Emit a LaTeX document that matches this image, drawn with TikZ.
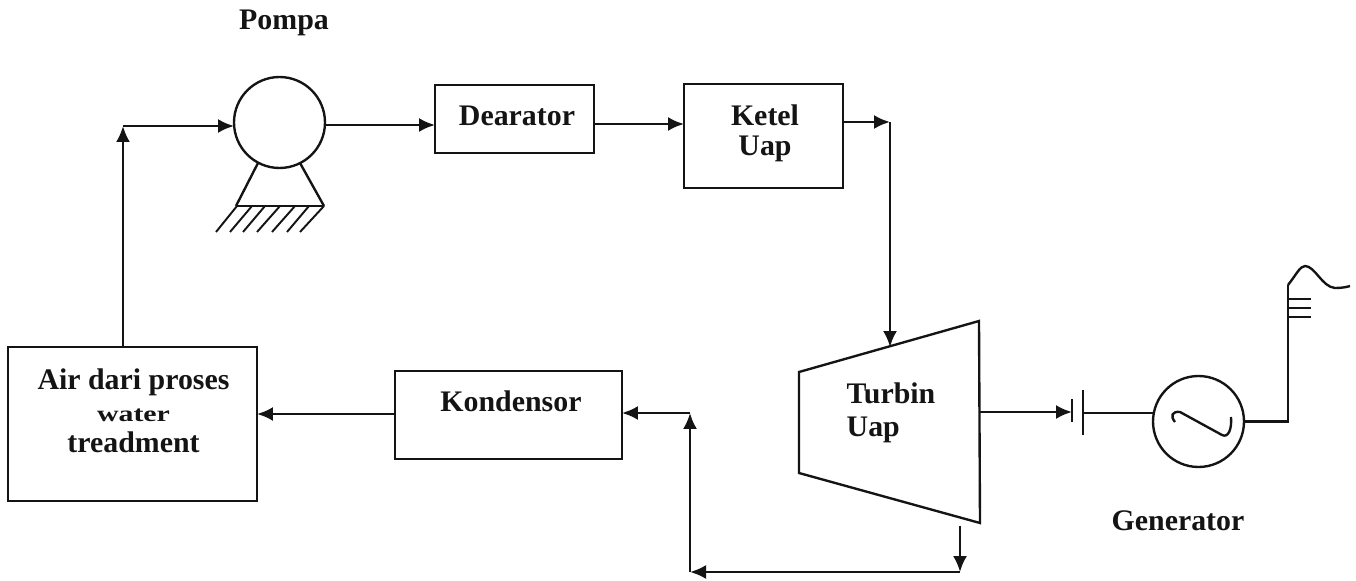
\documentclass[tikz,border=0pt]{standalone}
\usepackage{fontspec}
\usepackage{graphicx}
\setmainfont{Liberation Serif}
\usetikzlibrary{arrows.meta,calc}
\definecolor{ink}{HTML}{141414}

\begin{document}
\begin{tikzpicture}[
  x=0.02cm,y=-0.02cm,
  line width=1.35pt,draw=ink,
  font=\fontsize{17}{18}\selectfont\bfseries,
  boxnode/.style={draw,rectangle,inner sep=0pt,outer sep=0pt},
  wheel/.style={draw,circle,minimum size=1.82cm,inner sep=0pt,outer sep=0pt},
  txt/.style={text=ink,inner sep=0pt,align=center},
  flow/.style={-{Latex[length=3.2mm,width=2.8mm]}},
  thin line/.style={line width=1.1pt}]
\useasboundingbox (0,0) rectangle (1356,581);
% boxes
\node[boxnode,minimum width=3.18cm,minimum height=1.36cm] (dearator) at (514.5,119) {};
\node[boxnode,minimum width=3.18cm,minimum height=2.08cm] (ketel) at (763.5,136) {};
\node[boxnode,minimum width=4.98cm,minimum height=3.08cm] (air) at (132.5,424) {};
\node[boxnode,minimum width=4.54cm,minimum height=1.76cm] (kondensor) at (508.5,415) {};
\node[wheel] (pompa) at (279.5,122.5) {};
\node[wheel] (generator) at (1198.5,421.5) {};
% labels
\node[txt] (pompaT) at (284,23) {Pompa};
\node[txt] (dearatorT) at ($(dearator.center)+(2.5,-3)$) {Dearator};
\node[txt] (ketelT) at ($(ketel.center)+(1.5,-3)$) {Ketel\\[-1pt]Uap};
\node[txt] (kondensorT) at ($(kondensor.center)+(2.5,-14)$) {Kondensor};
\node[txt] (airT) at ($(air.center)+(1,-13)$) {Air dari proses\\\scalebox{1}[0.75]{water}\\treadment};
\node[txt,align=left] (turbinT) at (891,413) {Turbin\\[1pt]Uap};
\node[txt] (generatorT) at (1178,521) {Generator};
% pump stand
\coordinate (standL) at (236,206);
\coordinate (standR) at (324,206);
\draw (standL) -- (258,163);
\draw (standR) -- (300,163);
\draw (standL) -- (standR);
\foreach \a/\b in {237/216,252/230,265/243,280/257,295/272,309/287,324/300} \draw[thin line] (\a,206) -- (\b,232);
% turbine
\coordinate (turbA) at (799,372);
\coordinate (turbB) at (979,321);
\coordinate (turbC) at (980,523);
\coordinate (turbD) at (799,473);
\draw (turbA) -- (turbB) -- (turbC) -- (turbD) -- cycle;
% feed line
\coordinate (riser) at (123,126);
\draw[flow] (air.north -| riser) -- (riser);
\draw[flow] (riser) -- (riser -| pompa.west);
\draw[flow] (pompa.east |- 0,125) -- (dearator.west |- 0,125);
\draw[flow] (dearator.east |- 0,124) -- (ketel.west |- 0,124);
\coordinate (steam) at (890,122);
\coordinate (steamIn) at (890,347);
\draw[flow] (ketel.east |- steam) -- (steam);
\draw[flow] (steam) -- (steamIn);
% exhaust
\coordinate (exA) at (960,526);
\coordinate (exB) at (960,572);
\coordinate (exC) at (690,572);
\coordinate (exD) at (690,413);
\draw[flow] (exA) -- (exB);
\draw[flow] (exB) -- (exC);
\draw[flow] (exC) -- (exD);
\draw[flow] (exD) -- (kondensor.east |- exD);
\draw[flow] (kondensor.west |- 0,414) -- (air.east |- 0,414);
% shaft and generator
\coordinate (barA) at (1072,412);
\coordinate (barB) at (1083,413);
\draw[flow] (980,412) -- (barA);
\draw (1072,399) -- (1072,422);
\draw (1083,390) -- (1083,435);
\draw (barB) -- (barB -| generator.west);
\draw (1175,422) .. controls (1170,416) and (1172,411) .. (1180,412) -- (1222,435) .. controls (1228,438) and (1232,430) .. (1231,417);
% antenna
\coordinate (mast) at (1288,285);
\draw (generator.east) -- (1288,421.5) -- (mast);
\foreach \y in {299,308,317} \draw[thin line] (1288,\y) -- (1311,\y);
\draw (mast) .. controls (1296,275) and (1300,266) .. (1305,266) .. controls (1315,266) and (1322,287) .. (1335,288) .. controls (1342,288) and (1347,287) .. (1350,286);
\end{tikzpicture}
\end{document}
